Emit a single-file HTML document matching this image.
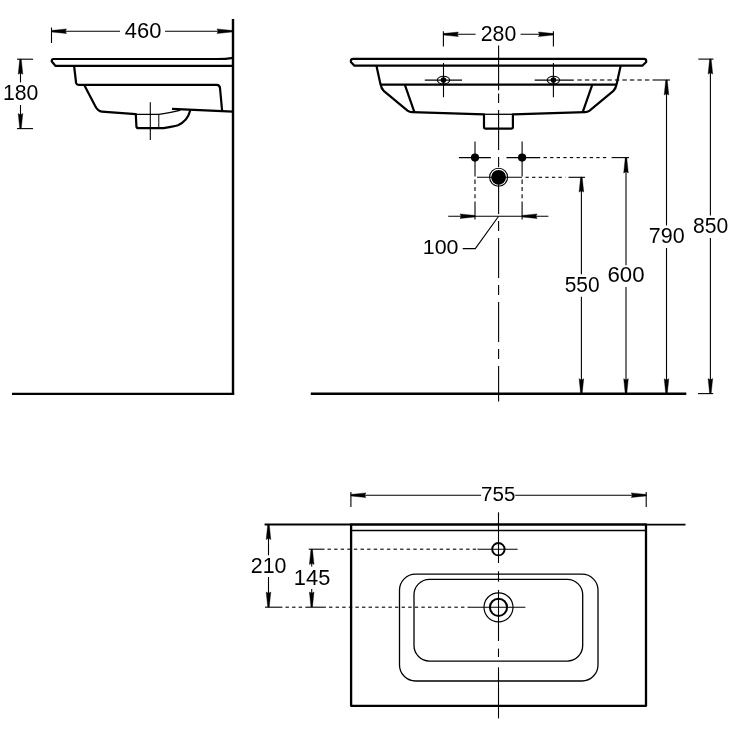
<!DOCTYPE html>
<html><head><meta charset="utf-8"><style>
html,body{margin:0;padding:0;background:#fff;}
svg{display:block;will-change:transform;}
text{font-family:"Liberation Sans",sans-serif;}
</style></head><body>
<svg width="731" height="731" viewBox="0 0 731 731">
<rect width="731" height="731" fill="#fff"/>
<g stroke="#000" fill="none" stroke-linejoin="round">
<line x1="233" y1="19" x2="233" y2="394.5" stroke-width="2.4" stroke-linecap="butt"/>
<line x1="12" y1="393.9" x2="234.2" y2="393.9" stroke-width="2.3" stroke-linecap="butt"/>
<line x1="51.5" y1="27.5" x2="51.5" y2="43" stroke-width="1.1" stroke-linecap="butt"/>
<line x1="51.5" y1="31.2" x2="120" y2="31.2" stroke-width="1.1" stroke-linecap="butt"/>
<line x1="165" y1="31.2" x2="233" y2="31.2" stroke-width="1.1" stroke-linecap="butt"/>
<polygon points="51.50,30.45 51.50,31.95 66.50,33.50 65.50,31.70 65.50,30.70 66.50,28.90" stroke="#000" stroke-width="0.4" fill="#000"/>
<polygon points="232.00,30.45 232.00,31.95 217.00,33.50 218.00,31.70 218.00,30.70 217.00,28.90" stroke="#000" stroke-width="0.4" fill="#000"/>
<text transform="translate(124.71,37.69) scale(1.0358,1)" font-size="21.20" stroke="none" fill="#000">460</text>
<line x1="17" y1="59.2" x2="33" y2="59.2" stroke-width="1.1" stroke-linecap="butt"/>
<line x1="17" y1="128.6" x2="33" y2="128.6" stroke-width="1.1" stroke-linecap="butt"/>
<line x1="20.5" y1="59.2" x2="20.5" y2="82.4" stroke-width="1.1" stroke-linecap="butt"/>
<line x1="20.5" y1="105" x2="20.5" y2="128.6" stroke-width="1.1" stroke-linecap="butt"/>
<polygon points="19.75,59.20 21.25,59.20 22.80,74.20 21.00,73.20 20.00,73.20 18.20,74.20" stroke="#000" stroke-width="0.4" fill="#000"/>
<polygon points="19.75,128.60 21.25,128.60 22.80,113.60 21.00,114.60 20.00,114.60 18.20,113.60" stroke="#000" stroke-width="0.4" fill="#000"/>
<text transform="translate(3.01,99.78) scale(0.9750,1)" font-size="21.77" stroke="none" fill="#000">180</text>
<path d="M233,57.8 Q226,59 217,59 L53.5,59 Q51.8,59 51.8,60.8 L51.8,61.6 L55.6,65.9 L233,65.9" fill="none" stroke-width="2.2"/>
<path d="M74.1,66 L76.1,83 Q76.6,84.8 78.6,84.8 L216.5,84.8 Q219.6,84.8 220,88 L222.1,110.6" fill="none" stroke-width="2.2"/>
<path d="M84.1,84.8 L95.6,106.8 Q98,111.3 101.8,111.6 L135.8,114.1 L136.4,126.5 Q136.6,128.1 138.5,128.1 L163.5,128.1 Q173,126.5 178,125.2 Q187.6,121 190.3,110.3" fill="none" stroke-width="2.2"/>
<path d="M172.1,108.9 L233,111.7" fill="none" stroke-width="2.2"/>
<path d="M136,114.3 L159,114.3 Q172,112.3 179.8,110.3 Q178,109.3 172.1,108.9" fill="none" stroke-width="1.3"/>
<line x1="158.8" y1="114.3" x2="158.8" y2="127.5" stroke-width="1.0" stroke-linecap="butt"/>
<line x1="150.3" y1="102.2" x2="150.3" y2="140" stroke-width="1.1" stroke-linecap="butt"/>
<line x1="310.8" y1="393.7" x2="686.3" y2="393.7" stroke-width="2.4" stroke-linecap="butt"/>
<path d="M353.1,58.8 L643.9,58.8 Q646.2,58.8 646.2,61 L646.2,62 L642.3,65.7 L354.4,65.7 L350.9,62 L350.9,61 Q350.9,58.8 353.1,58.8 Z" fill="none" stroke-width="2.2"/>
<path d="M376.5,66 L380.3,83.5 Q381.2,88.5 384,91.2 L407.5,110.6 Q409.5,112.1 412,112.2 L484,114.3 L484,127 Q484,128.7 485.7,128.7 L511.2,128.7 Q512.9,128.7 512.9,127 L512.9,114.3 L585.1,112.2 Q587.6,112.1 589.6,110.6 L613.1,91.2 Q615.9,88.5 616.8,83.5 L620.6,66" fill="none" stroke-width="2.2"/>
<line x1="380.8" y1="84.6" x2="616.2" y2="84.6" stroke-width="2.2" stroke-linecap="butt"/>
<line x1="484" y1="114.3" x2="512.9" y2="114.3" stroke-width="1.3" stroke-linecap="butt"/>
<line x1="404.8" y1="84.6" x2="414.3" y2="111.8" stroke-width="2.2" stroke-linecap="butt"/>
<line x1="592.3" y1="84.6" x2="582.8" y2="111.8" stroke-width="2.2" stroke-linecap="butt"/>
<ellipse cx="443.5" cy="80.1" rx="6.2" ry="3.9" fill="none" stroke-width="1.1"/>
<circle cx="443.5" cy="80.1" r="2.8" fill="#000" stroke="none"/>
<line x1="424.8" y1="80.1" x2="462.0" y2="80.1" stroke-width="1.1" stroke-linecap="butt"/>
<line x1="443.5" y1="63" x2="443.5" y2="97.2" stroke-width="1.1" stroke-linecap="butt"/>
<ellipse cx="553.4" cy="80.1" rx="6.2" ry="3.9" fill="none" stroke-width="1.1"/>
<circle cx="553.4" cy="80.1" r="2.8" fill="#000" stroke="none"/>
<line x1="534.6999999999999" y1="80.1" x2="573.8" y2="80.1" stroke-width="1.1" stroke-linecap="butt"/>
<line x1="553.4" y1="63" x2="553.4" y2="97.2" stroke-width="1.1" stroke-linecap="butt"/>
<line x1="443.4" y1="31.2" x2="443.4" y2="46.5" stroke-width="1.1" stroke-linecap="butt"/>
<line x1="553.4" y1="31.2" x2="553.4" y2="46.5" stroke-width="1.1" stroke-linecap="butt"/>
<line x1="443.4" y1="34.3" x2="475.6" y2="34.3" stroke-width="1.1" stroke-linecap="butt"/>
<line x1="520.6" y1="34.3" x2="553.4" y2="34.3" stroke-width="1.1" stroke-linecap="butt"/>
<polygon points="443.40,33.55 443.40,35.05 458.40,36.60 457.40,34.80 457.40,33.80 458.40,32.00" stroke="#000" stroke-width="0.4" fill="#000"/>
<polygon points="553.40,33.55 553.40,35.05 538.40,36.60 539.40,34.80 539.40,33.80 538.40,32.00" stroke="#000" stroke-width="0.4" fill="#000"/>
<text transform="translate(480.74,40.69) scale(0.9964,1)" font-size="21.34" stroke="none" fill="#000">280</text>
<line x1="498.6" y1="45.6" x2="498.6" y2="90.2" stroke-width="1.1" stroke-linecap="butt"/>
<line x1="498.6" y1="93.5" x2="498.6" y2="103" stroke-width="1.1" stroke-linecap="butt"/>
<line x1="498.6" y1="110" x2="498.6" y2="150" stroke-width="1.1" stroke-linecap="butt"/>
<line x1="498.6" y1="157" x2="498.6" y2="167" stroke-width="1.1" stroke-linecap="butt"/>
<line x1="498.6" y1="174" x2="498.6" y2="214" stroke-width="1.1" stroke-linecap="butt"/>
<line x1="498.6" y1="221" x2="498.6" y2="231" stroke-width="1.1" stroke-linecap="butt"/>
<line x1="498.6" y1="238" x2="498.6" y2="278" stroke-width="1.1" stroke-linecap="butt"/>
<line x1="498.6" y1="285" x2="498.6" y2="295" stroke-width="1.1" stroke-linecap="butt"/>
<line x1="498.6" y1="302" x2="498.6" y2="342" stroke-width="1.1" stroke-linecap="butt"/>
<line x1="498.6" y1="349" x2="498.6" y2="359" stroke-width="1.1" stroke-linecap="butt"/>
<line x1="498.6" y1="366" x2="498.6" y2="401.6" stroke-width="1.1" stroke-linecap="butt"/>
<line x1="577.4" y1="80" x2="581.8" y2="80" stroke-width="1.1" stroke-linecap="butt"/>
<line x1="584.9" y1="80" x2="589.3" y2="80" stroke-width="1.1" stroke-linecap="butt"/>
<line x1="592.4" y1="80" x2="596.8" y2="80" stroke-width="1.1" stroke-linecap="butt"/>
<line x1="599.9" y1="80" x2="604.3" y2="80" stroke-width="1.1" stroke-linecap="butt"/>
<line x1="607.4" y1="80" x2="611.8" y2="80" stroke-width="1.1" stroke-linecap="butt"/>
<line x1="614.9" y1="80" x2="619.3" y2="80" stroke-width="1.1" stroke-linecap="butt"/>
<line x1="622.4" y1="80" x2="626.8" y2="80" stroke-width="1.1" stroke-linecap="butt"/>
<line x1="629.9" y1="80" x2="634.3" y2="80" stroke-width="1.1" stroke-linecap="butt"/>
<line x1="637.4" y1="80" x2="641.8" y2="80" stroke-width="1.1" stroke-linecap="butt"/>
<line x1="644.9" y1="80" x2="649.3" y2="80" stroke-width="1.1" stroke-linecap="butt"/>
<line x1="652.5" y1="80" x2="670" y2="80" stroke-width="1.1" stroke-linecap="butt"/>
<line x1="666.5" y1="80" x2="666.5" y2="225.5" stroke-width="1.1" stroke-linecap="butt"/>
<line x1="666.5" y1="248" x2="666.5" y2="393.7" stroke-width="1.1" stroke-linecap="butt"/>
<polygon points="665.75,80.00 667.25,80.00 668.80,95.00 667.00,94.00 666.00,94.00 664.20,95.00" stroke="#000" stroke-width="0.4" fill="#000"/>
<polygon points="665.75,393.70 667.25,393.70 668.80,378.70 667.00,379.70 666.00,379.70 664.20,378.70" stroke="#000" stroke-width="0.4" fill="#000"/>
<text transform="translate(648.77,242.69) scale(1.0069,1)" font-size="21.34" stroke="none" fill="#000">790</text>
<line x1="698.3" y1="59.1" x2="713.5" y2="59.1" stroke-width="1.1" stroke-linecap="butt"/>
<line x1="698" y1="393.6" x2="713.2" y2="393.6" stroke-width="1.1" stroke-linecap="butt"/>
<line x1="710.4" y1="59.1" x2="710.4" y2="215.6" stroke-width="1.1" stroke-linecap="butt"/>
<line x1="710.4" y1="238" x2="710.4" y2="393.6" stroke-width="1.1" stroke-linecap="butt"/>
<polygon points="709.65,59.10 711.15,59.10 712.70,74.10 710.90,73.10 709.90,73.10 708.10,74.10" stroke="#000" stroke-width="0.4" fill="#000"/>
<polygon points="709.65,393.60 711.15,393.60 712.70,378.60 710.90,379.60 709.90,379.60 708.10,378.60" stroke="#000" stroke-width="0.4" fill="#000"/>
<text transform="translate(693.00,232.69) scale(0.9953,1)" font-size="21.20" stroke="none" fill="#000">850</text>
<circle cx="475" cy="157.6" r="4.1" fill="#000" stroke="none"/>
<line x1="475" y1="141.5" x2="475" y2="176.6" stroke-width="1.1" stroke-linecap="butt"/>
<line x1="475" y1="179.5" x2="475" y2="184" stroke-width="1.1" stroke-linecap="butt"/>
<line x1="475" y1="187" x2="475" y2="191" stroke-width="1.1" stroke-linecap="butt"/>
<line x1="475" y1="194.2" x2="475" y2="198.2" stroke-width="1.1" stroke-linecap="butt"/>
<line x1="475" y1="201.6" x2="475" y2="219.6" stroke-width="1.1" stroke-linecap="butt"/>
<circle cx="522.1" cy="157.6" r="4.1" fill="#000" stroke="none"/>
<line x1="522.1" y1="141.5" x2="522.1" y2="176.6" stroke-width="1.1" stroke-linecap="butt"/>
<line x1="522.1" y1="179.5" x2="522.1" y2="184" stroke-width="1.1" stroke-linecap="butt"/>
<line x1="522.1" y1="187" x2="522.1" y2="191" stroke-width="1.1" stroke-linecap="butt"/>
<line x1="522.1" y1="194.2" x2="522.1" y2="198.2" stroke-width="1.1" stroke-linecap="butt"/>
<line x1="522.1" y1="201.6" x2="522.1" y2="219.6" stroke-width="1.1" stroke-linecap="butt"/>
<line x1="458.9" y1="157.6" x2="490.9" y2="157.6" stroke-width="1.1" stroke-linecap="butt"/>
<line x1="506.5" y1="157.6" x2="540.2" y2="157.6" stroke-width="1.1" stroke-linecap="butt"/>
<line x1="543.5" y1="157.6" x2="546.8" y2="157.6" stroke-width="1.1" stroke-linecap="butt"/>
<line x1="550.1" y1="157.6" x2="553.4" y2="157.6" stroke-width="1.1" stroke-linecap="butt"/>
<line x1="556.7" y1="157.6" x2="560.0" y2="157.6" stroke-width="1.1" stroke-linecap="butt"/>
<line x1="563.3000000000001" y1="157.6" x2="566.6" y2="157.6" stroke-width="1.1" stroke-linecap="butt"/>
<line x1="569.9000000000001" y1="157.6" x2="573.2" y2="157.6" stroke-width="1.1" stroke-linecap="butt"/>
<line x1="576.5000000000001" y1="157.6" x2="579.8000000000001" y2="157.6" stroke-width="1.1" stroke-linecap="butt"/>
<line x1="583.1000000000001" y1="157.6" x2="586.4000000000001" y2="157.6" stroke-width="1.1" stroke-linecap="butt"/>
<line x1="589.7000000000002" y1="157.6" x2="593.0000000000001" y2="157.6" stroke-width="1.1" stroke-linecap="butt"/>
<line x1="596.3000000000002" y1="157.6" x2="599.6000000000001" y2="157.6" stroke-width="1.1" stroke-linecap="butt"/>
<line x1="602.9000000000002" y1="157.6" x2="606.2000000000002" y2="157.6" stroke-width="1.1" stroke-linecap="butt"/>
<line x1="611.6" y1="157.6" x2="629" y2="157.6" stroke-width="1.1" stroke-linecap="butt"/>
<line x1="626" y1="157.9" x2="626" y2="265.3" stroke-width="1.1" stroke-linecap="butt"/>
<line x1="626" y1="287.1" x2="626" y2="393.7" stroke-width="1.1" stroke-linecap="butt"/>
<polygon points="625.25,157.90 626.75,157.90 628.30,172.90 626.50,171.90 625.50,171.90 623.70,172.90" stroke="#000" stroke-width="0.4" fill="#000"/>
<polygon points="625.25,393.70 626.75,393.70 628.30,378.70 626.50,379.70 625.50,379.70 623.70,378.70" stroke="#000" stroke-width="0.4" fill="#000"/>
<text transform="translate(607.49,281.79) scale(1.0409,1)" font-size="21.34" stroke="none" fill="#000">600</text>
<line x1="477" y1="177.3" x2="522" y2="177.3" stroke-width="1.1" stroke-linecap="butt"/>
<line x1="525.5" y1="177.3" x2="528.8" y2="177.3" stroke-width="1.1" stroke-linecap="butt"/>
<line x1="532.1" y1="177.3" x2="535.4" y2="177.3" stroke-width="1.1" stroke-linecap="butt"/>
<line x1="538.7" y1="177.3" x2="542.0" y2="177.3" stroke-width="1.1" stroke-linecap="butt"/>
<line x1="545.3000000000001" y1="177.3" x2="548.6" y2="177.3" stroke-width="1.1" stroke-linecap="butt"/>
<line x1="551.9000000000001" y1="177.3" x2="555.2" y2="177.3" stroke-width="1.1" stroke-linecap="butt"/>
<line x1="558.5000000000001" y1="177.3" x2="561.8000000000001" y2="177.3" stroke-width="1.1" stroke-linecap="butt"/>
<line x1="565.1000000000001" y1="177.3" x2="565.5" y2="177.3" stroke-width="1.1" stroke-linecap="butt"/>
<line x1="568.5" y1="177.3" x2="585" y2="177.3" stroke-width="1.1" stroke-linecap="butt"/>
<circle cx="498.6" cy="177.3" r="9" fill="none" stroke-width="1.1"/>
<circle cx="498.6" cy="177.3" r="7.4" fill="#000" stroke="none"/>
<line x1="581.4" y1="177.1" x2="581.4" y2="274.2" stroke-width="1.1" stroke-linecap="butt"/>
<line x1="581.4" y1="296.7" x2="581.4" y2="393.7" stroke-width="1.1" stroke-linecap="butt"/>
<polygon points="580.65,177.10 582.15,177.10 583.70,192.10 581.90,191.10 580.90,191.10 579.10,192.10" stroke="#000" stroke-width="0.4" fill="#000"/>
<polygon points="580.65,393.70 582.15,393.70 583.70,378.70 581.90,379.70 580.90,379.70 579.10,378.70" stroke="#000" stroke-width="0.4" fill="#000"/>
<text transform="translate(564.66,291.98) scale(0.9622,1)" font-size="21.77" stroke="none" fill="#000">550</text>
<line x1="448.2" y1="216.2" x2="548.4" y2="216.2" stroke-width="1.1" stroke-linecap="butt"/>
<polygon points="475.00,215.45 475.00,216.95 460.00,218.50 461.00,216.70 461.00,215.70 460.00,213.90" stroke="#000" stroke-width="0.4" fill="#000"/>
<polygon points="522.10,215.45 522.10,216.95 537.10,218.50 536.10,216.70 536.10,215.70 537.10,213.90" stroke="#000" stroke-width="0.4" fill="#000"/>
<polyline points="498.6,216.2 475.3,248.6 462.7,248.6" fill="none" stroke-width="1.1"/>
<text transform="translate(422.79,254.39) scale(1.0307,1)" font-size="20.78" stroke="none" fill="#000">100</text>
<line x1="264.6" y1="524.6" x2="351" y2="524.6" stroke-width="2.0" stroke-linecap="butt"/>
<line x1="646" y1="524.6" x2="685.5" y2="524.6" stroke-width="1.8" stroke-linecap="butt"/>
<rect x="351.1" y="524.5" width="294.9" height="181.3" fill="none" stroke-width="2.3"/>
<line x1="351" y1="530.5" x2="646" y2="530.5" stroke-width="1.3" stroke-linecap="butt"/>
<rect x="399.5" y="574.2" width="198.5" height="106.8" rx="16" fill="none" stroke-width="1.3"/>
<rect x="414" y="579.3" width="168.7" height="81.8" rx="15.5" fill="none" stroke-width="1.3"/>
<circle cx="498.4" cy="549.2" r="6.2" fill="none" stroke-width="1.9"/>
<line x1="477.5" y1="549.2" x2="517.6" y2="549.2" stroke-width="1.1" stroke-linecap="butt"/>
<circle cx="498.5" cy="607.3" r="14.5" fill="none" stroke-width="1.2"/>
<circle cx="498.5" cy="607.3" r="8.6" fill="none" stroke-width="2"/>
<line x1="470" y1="607.3" x2="525.4" y2="607.3" stroke-width="1.1" stroke-linecap="butt"/>
<line x1="308.7" y1="549.2" x2="324.5" y2="549.2" stroke-width="1.1" stroke-linecap="butt"/>
<line x1="327.5" y1="549.2" x2="330.9" y2="549.2" stroke-width="1.1" stroke-linecap="butt"/>
<line x1="334.1" y1="549.2" x2="337.5" y2="549.2" stroke-width="1.1" stroke-linecap="butt"/>
<line x1="340.70000000000005" y1="549.2" x2="344.1" y2="549.2" stroke-width="1.1" stroke-linecap="butt"/>
<line x1="347.30000000000007" y1="549.2" x2="350.70000000000005" y2="549.2" stroke-width="1.1" stroke-linecap="butt"/>
<line x1="353.9000000000001" y1="549.2" x2="357.30000000000007" y2="549.2" stroke-width="1.1" stroke-linecap="butt"/>
<line x1="360.5000000000001" y1="549.2" x2="363.9000000000001" y2="549.2" stroke-width="1.1" stroke-linecap="butt"/>
<line x1="367.10000000000014" y1="549.2" x2="370.5000000000001" y2="549.2" stroke-width="1.1" stroke-linecap="butt"/>
<line x1="373.70000000000016" y1="549.2" x2="377.10000000000014" y2="549.2" stroke-width="1.1" stroke-linecap="butt"/>
<line x1="380.3000000000002" y1="549.2" x2="383.70000000000016" y2="549.2" stroke-width="1.1" stroke-linecap="butt"/>
<line x1="386.9000000000002" y1="549.2" x2="390.3000000000002" y2="549.2" stroke-width="1.1" stroke-linecap="butt"/>
<line x1="393.5000000000002" y1="549.2" x2="396.9000000000002" y2="549.2" stroke-width="1.1" stroke-linecap="butt"/>
<line x1="400.10000000000025" y1="549.2" x2="403.5000000000002" y2="549.2" stroke-width="1.1" stroke-linecap="butt"/>
<line x1="406.7000000000003" y1="549.2" x2="410.10000000000025" y2="549.2" stroke-width="1.1" stroke-linecap="butt"/>
<line x1="413.3000000000003" y1="549.2" x2="416.7000000000003" y2="549.2" stroke-width="1.1" stroke-linecap="butt"/>
<line x1="419.9000000000003" y1="549.2" x2="423.3000000000003" y2="549.2" stroke-width="1.1" stroke-linecap="butt"/>
<line x1="426.50000000000034" y1="549.2" x2="429.9000000000003" y2="549.2" stroke-width="1.1" stroke-linecap="butt"/>
<line x1="433.10000000000036" y1="549.2" x2="436.50000000000034" y2="549.2" stroke-width="1.1" stroke-linecap="butt"/>
<line x1="439.7000000000004" y1="549.2" x2="443.10000000000036" y2="549.2" stroke-width="1.1" stroke-linecap="butt"/>
<line x1="446.3000000000004" y1="549.2" x2="449.7000000000004" y2="549.2" stroke-width="1.1" stroke-linecap="butt"/>
<line x1="452.90000000000043" y1="549.2" x2="456.3000000000004" y2="549.2" stroke-width="1.1" stroke-linecap="butt"/>
<line x1="459.50000000000045" y1="549.2" x2="462.90000000000043" y2="549.2" stroke-width="1.1" stroke-linecap="butt"/>
<line x1="466.1000000000005" y1="549.2" x2="469.50000000000045" y2="549.2" stroke-width="1.1" stroke-linecap="butt"/>
<line x1="472.7000000000005" y1="549.2" x2="476.1000000000005" y2="549.2" stroke-width="1.1" stroke-linecap="butt"/>
<line x1="265" y1="607.2" x2="282.4" y2="607.2" stroke-width="1.1" stroke-linecap="butt"/>
<line x1="285.5" y1="607.2" x2="288.9" y2="607.2" stroke-width="1.1" stroke-linecap="butt"/>
<line x1="292.1" y1="607.2" x2="295.5" y2="607.2" stroke-width="1.1" stroke-linecap="butt"/>
<line x1="298.70000000000005" y1="607.2" x2="302.1" y2="607.2" stroke-width="1.1" stroke-linecap="butt"/>
<line x1="305.30000000000007" y1="607.2" x2="306" y2="607.2" stroke-width="1.1" stroke-linecap="butt"/>
<line x1="306" y1="607.2" x2="325.9" y2="607.2" stroke-width="1.1" stroke-linecap="butt"/>
<line x1="329" y1="607.2" x2="332.4" y2="607.2" stroke-width="1.1" stroke-linecap="butt"/>
<line x1="335.6" y1="607.2" x2="339.0" y2="607.2" stroke-width="1.1" stroke-linecap="butt"/>
<line x1="342.20000000000005" y1="607.2" x2="345.6" y2="607.2" stroke-width="1.1" stroke-linecap="butt"/>
<line x1="348.80000000000007" y1="607.2" x2="352.20000000000005" y2="607.2" stroke-width="1.1" stroke-linecap="butt"/>
<line x1="355.4000000000001" y1="607.2" x2="358.80000000000007" y2="607.2" stroke-width="1.1" stroke-linecap="butt"/>
<line x1="362.0000000000001" y1="607.2" x2="365.4000000000001" y2="607.2" stroke-width="1.1" stroke-linecap="butt"/>
<line x1="368.60000000000014" y1="607.2" x2="372.0000000000001" y2="607.2" stroke-width="1.1" stroke-linecap="butt"/>
<line x1="375.20000000000016" y1="607.2" x2="378.60000000000014" y2="607.2" stroke-width="1.1" stroke-linecap="butt"/>
<line x1="381.8000000000002" y1="607.2" x2="385.20000000000016" y2="607.2" stroke-width="1.1" stroke-linecap="butt"/>
<line x1="388.4000000000002" y1="607.2" x2="391.8000000000002" y2="607.2" stroke-width="1.1" stroke-linecap="butt"/>
<line x1="395.0000000000002" y1="607.2" x2="398.4000000000002" y2="607.2" stroke-width="1.1" stroke-linecap="butt"/>
<line x1="401.60000000000025" y1="607.2" x2="405.0000000000002" y2="607.2" stroke-width="1.1" stroke-linecap="butt"/>
<line x1="408.2000000000003" y1="607.2" x2="411.60000000000025" y2="607.2" stroke-width="1.1" stroke-linecap="butt"/>
<line x1="414.8000000000003" y1="607.2" x2="418.2000000000003" y2="607.2" stroke-width="1.1" stroke-linecap="butt"/>
<line x1="421.4000000000003" y1="607.2" x2="424.8000000000003" y2="607.2" stroke-width="1.1" stroke-linecap="butt"/>
<line x1="428.00000000000034" y1="607.2" x2="431.4000000000003" y2="607.2" stroke-width="1.1" stroke-linecap="butt"/>
<line x1="434.60000000000036" y1="607.2" x2="438.00000000000034" y2="607.2" stroke-width="1.1" stroke-linecap="butt"/>
<line x1="441.2000000000004" y1="607.2" x2="444.60000000000036" y2="607.2" stroke-width="1.1" stroke-linecap="butt"/>
<line x1="447.8000000000004" y1="607.2" x2="451.2000000000004" y2="607.2" stroke-width="1.1" stroke-linecap="butt"/>
<line x1="454.40000000000043" y1="607.2" x2="457.8000000000004" y2="607.2" stroke-width="1.1" stroke-linecap="butt"/>
<line x1="461.00000000000045" y1="607.2" x2="464.40000000000043" y2="607.2" stroke-width="1.1" stroke-linecap="butt"/>
<line x1="467.6000000000005" y1="607.2" x2="470" y2="607.2" stroke-width="1.1" stroke-linecap="butt"/>
<line x1="268.5" y1="524.6" x2="268.5" y2="555.3" stroke-width="1.1" stroke-linecap="butt"/>
<line x1="268.5" y1="577" x2="268.5" y2="607" stroke-width="1.1" stroke-linecap="butt"/>
<polygon points="267.75,524.60 269.25,524.60 270.80,539.60 269.00,538.60 268.00,538.60 266.20,539.60" stroke="#000" stroke-width="0.4" fill="#000"/>
<polygon points="267.75,607.00 269.25,607.00 270.80,592.00 269.00,593.00 268.00,593.00 266.20,592.00" stroke="#000" stroke-width="0.4" fill="#000"/>
<text transform="translate(250.73,572.68) scale(0.9828,1)" font-size="21.77" stroke="none" fill="#000">210</text>
<line x1="311.7" y1="549.4" x2="311.7" y2="566.4" stroke-width="1.1" stroke-linecap="butt"/>
<line x1="311.7" y1="589" x2="311.7" y2="607" stroke-width="1.1" stroke-linecap="butt"/>
<polygon points="310.95,549.40 312.45,549.40 314.00,564.40 312.20,563.40 311.20,563.40 309.40,564.40" stroke="#000" stroke-width="0.4" fill="#000"/>
<polygon points="310.95,607.00 312.45,607.00 314.00,592.00 312.20,593.00 311.20,593.00 309.40,592.00" stroke="#000" stroke-width="0.4" fill="#000"/>
<text transform="translate(293.86,584.78) scale(1.0086,1)" font-size="21.65" stroke="none" fill="#000">145</text>
<line x1="350.9" y1="492" x2="350.9" y2="507" stroke-width="1.1" stroke-linecap="butt"/>
<line x1="646.2" y1="492" x2="646.2" y2="507" stroke-width="1.1" stroke-linecap="butt"/>
<line x1="350.9" y1="495.2" x2="481.1" y2="495.2" stroke-width="1.1" stroke-linecap="butt"/>
<line x1="515.2" y1="495.2" x2="646.2" y2="495.2" stroke-width="1.1" stroke-linecap="butt"/>
<polygon points="350.90,494.45 350.90,495.95 365.90,497.50 364.90,495.70 364.90,494.70 365.90,492.90" stroke="#000" stroke-width="0.4" fill="#000"/>
<polygon points="646.20,494.45 646.20,495.95 631.20,497.50 632.20,495.70 632.20,494.70 631.20,492.90" stroke="#000" stroke-width="0.4" fill="#000"/>
<text transform="translate(481.02,501.39) scale(0.9896,1)" font-size="20.79" stroke="none" fill="#000">755</text>
<line x1="498.5" y1="512.3" x2="498.5" y2="563" stroke-width="1.1" stroke-linecap="butt"/>
<line x1="498.5" y1="571.2" x2="498.5" y2="581.7" stroke-width="1.1" stroke-linecap="butt"/>
<line x1="498.5" y1="589.9" x2="498.5" y2="641" stroke-width="1.1" stroke-linecap="butt"/>
<line x1="498.5" y1="648.6" x2="498.5" y2="657" stroke-width="1.1" stroke-linecap="butt"/>
<line x1="498.5" y1="667.3" x2="498.5" y2="718.4" stroke-width="1.1" stroke-linecap="butt"/>
</g>
</svg>
</body></html>
